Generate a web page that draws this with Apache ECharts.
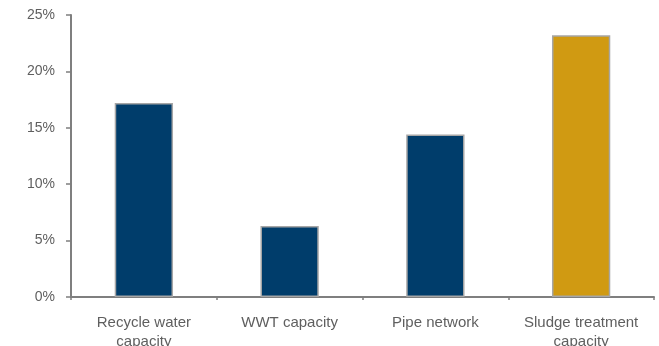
<!DOCTYPE html>
<html>
<head>
<meta charset="utf-8">
<script src="https://cdn.jsdelivr.net/npm/echarts@6/dist/echarts.min.js"></script>
<style>
  html, body { margin: 0; padding: 0; background: #fff; }
  #chart { width: 659px; height: 346px; }
</style>
</head>
<body>
<div id="chart"></div>
<script>
// categories and values (%)
var categories = ['Recycle water\ncapacity', 'WWT capacity', 'Pipe network', 'Sludge treatment\ncapacity'];
var values = [17.2, 6.3, 14.4, 23.2];
var barColors = ['#003D6B', '#003D6B', '#003D6B', '#D09A12'];

var chart = echarts.init(document.getElementById('chart'));

var option = {
  animation: false,
  grid: { left: 71, right: 5, top: 15, bottom: 49, outerBoundsMode: 'none', containLabel: false },
  xAxis: {
    type: 'category',
    data: categories,
    axisLine: { lineStyle: { color: '#7F7F7F', width: 2 } },
    axisTick: { show: true, length: 3, lineStyle: { color: '#7F7F7F', width: 1.5 } },
    axisLabel: {
      interval: 0,
      color: '#5F5F5F',
      fontFamily: 'Liberation Sans, Arial, sans-serif',
      fontSize: 15,
      margin: 16,
      lineHeight: 19
    }
  },
  yAxis: {
    type: 'value',
    min: 0,
    max: 25,
    interval: 5,
    splitLine: { show: false },
    axisLine: { show: true, lineStyle: { color: '#7F7F7F', width: 2 } },
    axisTick: { show: true, length: 5, lineStyle: { color: '#7F7F7F', width: 1.5 } },
    axisLabel: {
      color: '#5F5F5F',
      fontFamily: 'Liberation Sans, Arial, sans-serif',
      fontSize: 14,
      margin: 16,
      formatter: '{value}%'
    }
  },
  series: [{
    type: 'bar',
    barWidth: '40%',
    data: values.map(function (v, i) {
      return {
        value: v,
        itemStyle: { color: barColors[i], borderColor: '#A6A6A6', borderWidth: 1.5 }
      };
    })
  }]
};

chart.setOption(option);
</script>
</body>
</html>
